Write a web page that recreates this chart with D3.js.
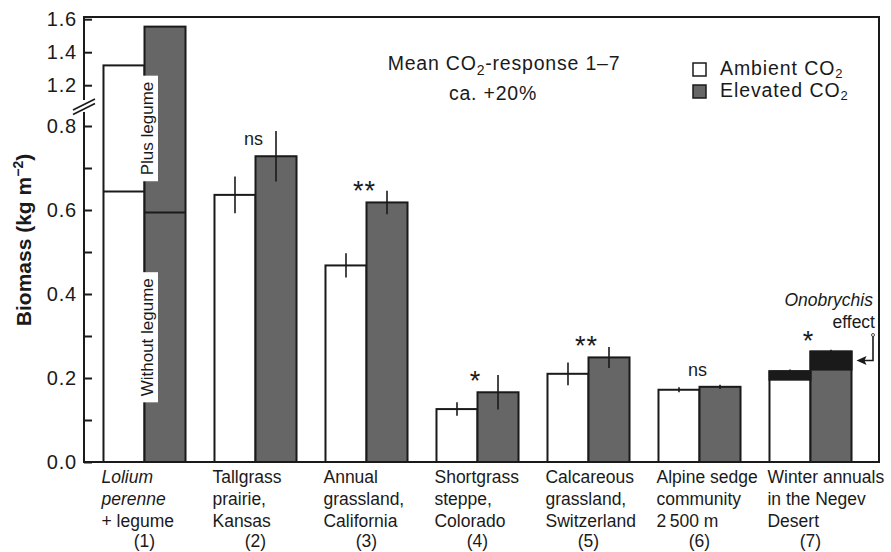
<!DOCTYPE html>
<html>
<head>
<meta charset="utf-8">
<script src="https://cdn.jsdelivr.net/npm/d3@7"></script>
<style>
  html, body { margin: 0; padding: 0; background: #fff; }
  svg { display: block; font-family: "Liberation Sans", Arial, Helvetica, sans-serif; }
</style>
</head>
<body>
<svg id="chart" width="891" height="552"></svg>
<script>
// ---------------- data ----------------
const categories = ["(1)", "(2)", "(3)", "(4)", "(5)", "(6)", "(7)"];
const groupLabels = [
  ["Lolium", "perenne", "+ legume"],
  ["Tallgrass", "prairie,", "Kansas"],
  ["Annual", "grassland,", "California"],
  ["Shortgrass", "steppe,", "Colorado"],
  ["Calcareous", "grassland,", "Switzerland"],
  ["Alpine sedge", "community", "2\u2009500 m"],
  ["Winter annuals", "in the Negev", "Desert"]
];
const italicWords = ["Lolium", "perenne"];
const seriesNames = ["Ambient CO", "Elevated CO"];
const ambient  = [1.32, 0.636, 0.468, 0.126, 0.210, 0.172, 0.196];
const elevated = [1.555, 0.728, 0.618, 0.166, 0.249, 0.179, 0.220];
const ambientErr  = [0, 0.044, 0.029, 0.016, 0.027, 0.006, 0.004];
const elevatedErr = [0, 0.060, 0.028, 0.041, 0.025, 0.005, 0.004];
const withoutLegume = [0.644, 0.594];            // group (1): ambient, elevated
const onobrychisAmbient  = [0, 0, 0, 0, 0, 0, 0.020];
const onobrychisElevated = [0, 0, 0, 0, 0, 0, 0.043];
const significance = ["", "ns", "**", "*", "**", "ns", "*"];
const yTickValues = [0, 0.1, 0.2, 0.3, 0.4, 0.5, 0.6, 0.7, 0.8, 1.2, 1.4, 1.6];
const yLabeled = [0, 0.2, 0.4, 0.6, 0.8, 1.2, 1.4, 1.6];

// ---------------- layout ----------------
const svg = d3.select("#chart");
const INK = "#1a1a1a", GRAY = "#666666";
const frame = { left: 84, right: 879, top: 17, bottom: 462 };

// broken axis: 0–0.85 below the break, 1.08–1.62 above it
const y = d3.scaleLinear()
  .domain([0, 0.85, 1.08, 1.62])
  .range([462, 105, 105, 15.9]);

const x0 = d3.scaleBand().domain(categories).range([89, 866])
  .paddingInner(0.261).paddingOuter(0.1305);
const x1 = d3.scaleBand().domain(["amb", "elev"]).range([0, x0.bandwidth()]);

// ---------------- bars ----------------
const groups = svg.append("g").selectAll("g").data(categories).join("g")
  .attr("transform", d => `translate(${x0(d)},0)`);

groups.append("rect")
  .attr("x", x1("amb")).attr("width", x1.bandwidth())
  .attr("y", (d, i) => y(ambient[i] + onobrychisAmbient[i]))
  .attr("height", (d, i) => y(0) - y(ambient[i] + onobrychisAmbient[i]))
  .attr("fill", "#fff").attr("stroke", INK).attr("stroke-width", 2);

groups.append("rect")
  .attr("x", x1("elev")).attr("width", x1.bandwidth())
  .attr("y", (d, i) => y(elevated[i] + onobrychisElevated[i]))
  .attr("height", (d, i) => y(0) - y(elevated[i] + onobrychisElevated[i]))
  .attr("fill", GRAY).attr("stroke", INK).attr("stroke-width", 2);

// Onobrychis effect segments
groups.filter((d, i) => onobrychisAmbient[i] > 0).append("rect")
  .attr("x", x1("amb")).attr("width", x1.bandwidth())
  .attr("y", d => { const i = categories.indexOf(d); return y(ambient[i] + onobrychisAmbient[i]); })
  .attr("height", d => { const i = categories.indexOf(d); return y(ambient[i]) - y(ambient[i] + onobrychisAmbient[i]); })
  .attr("fill", INK).attr("stroke", INK).attr("stroke-width", 2);
groups.filter((d, i) => onobrychisElevated[i] > 0).append("rect")
  .attr("x", x1("elev")).attr("width", x1.bandwidth())
  .attr("y", d => { const i = categories.indexOf(d); return y(elevated[i] + onobrychisElevated[i]); })
  .attr("height", d => { const i = categories.indexOf(d); return y(elevated[i]) - y(elevated[i] + onobrychisElevated[i]); })
  .attr("fill", INK).attr("stroke", INK).attr("stroke-width", 2);

// error bars
const errG = groups.filter((d, i) => ambientErr[i] > 0);
errG.append("line")
  .attr("x1", x1("amb") + x1.bandwidth() / 2).attr("x2", x1("amb") + x1.bandwidth() / 2)
  .attr("y1", d => { const i = categories.indexOf(d), t = ambient[i] + onobrychisAmbient[i]; return y(t + ambientErr[i]); })
  .attr("y2", d => { const i = categories.indexOf(d), t = ambient[i] + onobrychisAmbient[i]; return y(t - ambientErr[i]); })
  .attr("stroke", INK).attr("stroke-width", 1.6);
errG.append("line")
  .attr("x1", x1("elev") + x1.bandwidth() / 2).attr("x2", x1("elev") + x1.bandwidth() / 2)
  .attr("y1", d => { const i = categories.indexOf(d), t = elevated[i] + onobrychisElevated[i]; return y(t + elevatedErr[i]); })
  .attr("y2", d => { const i = categories.indexOf(d), t = elevated[i] + onobrychisElevated[i]; return y(t - elevatedErr[i]); })
  .attr("stroke", INK).attr("stroke-width", 1.6);

// significance labels
groups.append("text")
  .text((d, i) => significance[i])
  .attr("x", x0.bandwidth() / 2 - 2)
  .attr("y", (d, i) => {
    const top = y(Math.max(ambient[i] + onobrychisAmbient[i], elevated[i] + onobrychisElevated[i])) - 17;
    return significance[i].startsWith("*") ? top + 15 : top + 6;
  })
  .attr("text-anchor", "middle")
  .attr("font-size", (d, i) => significance[i].startsWith("*") ? 27 : 18)
  .attr("letter-spacing", (d, i) => significance[i].startsWith("*") ? 1 : 0)
  .attr("fill", INK);

// ---------------- group (1): legume split ----------------
const g1 = x0(categories[0]);
svg.append("line")
  .attr("x1", g1 + x1("amb")).attr("x2", g1 + x1("amb") + x1.bandwidth())
  .attr("y1", y(withoutLegume[0])).attr("y2", y(withoutLegume[0]))
  .attr("stroke", INK).attr("stroke-width", 2);
svg.append("line")
  .attr("x1", g1 + x1("elev")).attr("x2", g1 + x1("elev") + x1.bandwidth())
  .attr("y1", y(withoutLegume[1])).attr("y2", y(withoutLegume[1]))
  .attr("stroke", INK).attr("stroke-width", 2);

function boxLabel(text, cx, cy) {
  const g = svg.append("g").attr("transform", `translate(${cx},${cy}) rotate(-90)`);
  const t = g.append("text").text(text)
    .attr("text-anchor", "middle").attr("y", 6)
    .attr("font-size", 17).attr("fill", INK);
  const len = t.node().getComputedTextLength();
  g.insert("rect", "text")
    .attr("x", -len / 2 - 6).attr("width", len + 12)
    .attr("y", -11.5).attr("height", 23)
    .attr("fill", "#fff");
}
const divX = g1 + x1("elev") + 2;
boxLabel("Plus legume", divX, (y(withoutLegume[0]) + y(ambient[0])) / 2);
boxLabel("Without legume", divX, (y(withoutLegume[1]) + y(0)) / 2);

// ---------------- frame & axis ----------------
svg.append("rect")
  .attr("x", frame.left).attr("y", frame.top)
  .attr("width", frame.right - frame.left).attr("height", frame.bottom - frame.top)
  .attr("fill", "none").attr("stroke", INK).attr("stroke-width", 2);

const yAxis = d3.axisLeft(y)
  .tickValues(yTickValues)
  .tickSize(-8)
  .tickPadding(7)
  .tickFormat(d => yLabeled.some(v => Math.abs(v - d) < 1e-9) ? d3.format(".1f")(d) : "");
const ay = svg.append("g").attr("transform", `translate(${frame.left},0)`).call(yAxis);
ay.select(".domain").remove();
ay.selectAll(".tick line").attr("stroke", INK).attr("stroke-width", 2);
ay.selectAll(".tick text")
  .attr("font-size", 20).attr("letter-spacing", 0.8).attr("fill", INK)
  .attr("font-family", "'Liberation Sans', Arial, sans-serif");

// axis break
svg.append("rect").attr("x", frame.left - 2).attr("y", 100).attr("width", 4).attr("height", 12).attr("fill", "#fff");
[0, 4.5].forEach(o => {
  svg.append("line")
    .attr("x1", 73).attr("y1", 110 + o).attr("x2", 95).attr("y2", 99 + o)
    .attr("stroke", INK).attr("stroke-width", 1.6);
});

// y label
svg.append("text")
  .attr("transform", "translate(31,240) rotate(-90)")
  .attr("text-anchor", "middle").attr("font-size", 21).attr("fill", INK)
  .attr("font-weight", "bold")
  .html('Biomass (kg m<tspan dy="-8" font-size="14">\u22122</tspan><tspan dy="8">)</tspan>');

// ---------------- x labels ----------------
const xl = svg.append("g").selectAll("g").data(categories).join("g");
xl.each(function (d, i) {
  const g = d3.select(this);
  groupLabels[i].forEach((line, k) => {
    g.append("text").text(line)
      .attr("x", x0(d) - 2).attr("y", 483 + k * 22)
      .attr("font-size", 17.5).attr("fill", INK)
      .attr("font-style", italicWords.includes(line) ? "italic" : "normal");
  });
  g.append("text").text(d)
    .attr("x", x0(d) + x0.bandwidth() / 2).attr("y", 547)
    .attr("text-anchor", "middle").attr("font-size", 17.5).attr("fill", INK);
});

// ---------------- annotations ----------------
svg.append("text")
  .attr("x", 504).attr("y", 70).attr("text-anchor", "middle")
  .attr("font-size", 19.5).attr("letter-spacing", 0.8).attr("fill", INK)
  .html('Mean CO<tspan dy="5" font-size="14">2</tspan><tspan dy="-5">-response 1\u20137</tspan>');
svg.append("text")
  .attr("x", 493).attr("y", 100).attr("text-anchor", "middle")
  .attr("font-size", 19.5).attr("letter-spacing", 0.8).attr("fill", INK)
  .text("ca. +20%");

// legend
const legend = svg.append("g");
seriesNames.forEach((name, k) => {
  legend.append("rect")
    .attr("x", 693).attr("y", 63 + k * 22).attr("width", 13).attr("height", 13)
    .attr("fill", k === 0 ? "#fff" : GRAY).attr("stroke", INK).attr("stroke-width", 1.5);
  legend.append("text")
    .attr("x", 720).attr("y", 75 + k * 22)
    .attr("font-size", 19.5).attr("letter-spacing", 0.9).attr("fill", INK)
    .html(`${name}<tspan dy="3" font-size="13">2</tspan>`);
});

// Onobrychis effect
const g7 = x0(categories[6]);
const arrowY = (y(elevated[6]) + y(elevated[6] + onobrychisElevated[6])) / 2;
svg.append("text").text("Onobrychis")
  .attr("x", 873).attr("y", 306).attr("text-anchor", "end")
  .attr("font-size", 17.5).attr("font-style", "italic").attr("fill", INK);
svg.append("text").text("effect")
  .attr("x", 875).attr("y", 328).attr("text-anchor", "end")
  .attr("font-size", 17.5).attr("fill", INK);
svg.append("path")
  .attr("d", `M873,335 V${arrowY} H${g7 + x0.bandwidth() + 10}`)
  .attr("fill", "none").attr("stroke", INK).attr("stroke-width", 1.6);
svg.append("path")
  .attr("d", `M${g7 + x0.bandwidth() + 5},${arrowY} l10,-4.5 l-2,4.5 l2,4.5 z`)
  .attr("fill", INK);
svg.append("circle").attr("cx", 873).attr("cy", 335).attr("r", 1.5)
  .attr("fill", "#fff").attr("stroke", INK).attr("stroke-width", 0.8);
</script>
</body>
</html>
